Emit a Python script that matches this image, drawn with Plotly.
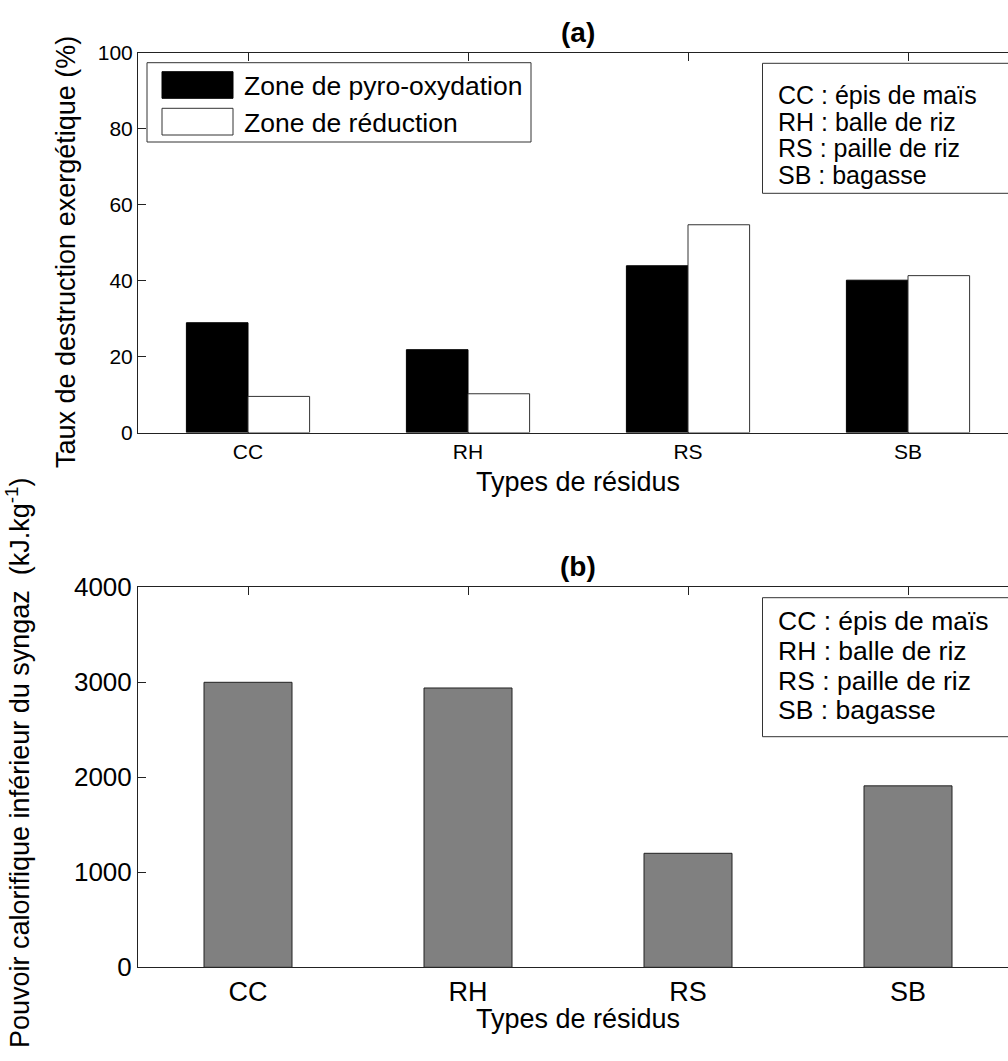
import plotly.graph_objects as go

# ---- data ----
categories = ["CC", "RH", "RS", "SB"]
pyro_oxydation = [28.9, 21.8, 43.9, 40.1]
reduction = [9.5, 10.2, 54.7, 41.3]
pci_syngaz = [3000, 2940, 1200, 1910]
legend_notes = ["CC : épis de maïs", "RH : balle de riz", "RS : paille de riz", "SB : bagasse"]
top_yticks = [0, 20, 40, 60, 80, 100]
bot_yticks = [0, 1000, 2000, 3000, 4000]

W, H = 1008, 1061
FONT = "Liberation Sans, Arial, sans-serif"


def px(x):
    return x / W


def py(y):
    return 1 - y / H


xpos = [1, 2, 3, 4]
XR = [0.5, 0.5 + (W - 138) / 220.0]

fig = go.Figure()
fig.add_trace(go.Bar(x=xpos, y=pyro_oxydation, width=0.28, offset=-0.28,
                     marker=dict(color="black", line=dict(color="black", width=1)),
                     xaxis="x", yaxis="y", showlegend=False, name="Zone de pyro-oxydation"))
fig.add_trace(go.Bar(x=xpos, y=reduction, width=0.28, offset=0.0,
                     marker=dict(color="white", line=dict(color="#333333", width=1)),
                     xaxis="x", yaxis="y", showlegend=False, name="Zone de réduction"))
fig.add_trace(go.Bar(x=xpos, y=pci_syngaz, width=0.4,
                     marker=dict(color="#808080", line=dict(color="#222222", width=1)),
                     xaxis="x2", yaxis="y2", showlegend=False, name="PCI syngaz"))

axis_common = dict(showgrid=False, zeroline=False, showline=True, linecolor="#222222",
                   linewidth=1, ticks="inside", ticklen=8, tickcolor="#222222",
                   layer="below traces", automargin=False)

fig.update_layout(
    width=W, height=H, margin=dict(l=0, r=0, t=0, b=0, pad=0, autoexpand=False),
    paper_bgcolor="white", plot_bgcolor="white",
    barmode="overlay",
    font=dict(family=FONT, color="black"),
    xaxis=dict(domain=[px(138), 1], range=XR, tickvals=xpos, ticktext=categories,
               mirror="ticks", anchor="y", tickfont=dict(size=21), **axis_common),
    yaxis=dict(domain=[py(432.5), py(52.7)], range=[0, 100], tickvals=top_yticks,
               anchor="x", tickfont=dict(size=21), **axis_common),
    xaxis2=dict(domain=[px(138), 1], range=XR, tickvals=xpos, ticktext=categories,
                mirror="ticks", anchor="y2", tickfont=dict(size=27), **axis_common),
    yaxis2=dict(domain=[py(967.3), py(587.3)], range=[0, 4000], tickvals=bot_yticks,
                anchor="x2", tickfont=dict(size=26), **axis_common),
)

shapes = []
annotations = []


def txt(text, x, y, size, xanchor="center", angle=0):
    annotations.append(dict(text=text, x=px(x), y=py(y), xref="paper", yref="paper",
                            xanchor=xanchor, yanchor="middle", showarrow=False,
                            textangle=angle, font=dict(size=size)))


# titles
txt("<b>(a)</b>", 578, 33, 28)
txt("<b>(b)</b>", 578, 566, 28)
# x titles
txt("Types de résidus", 578, 482, 27)
txt("Types de résidus", 578, 1019, 27)
# y titles
txt("Taux de destruction exergétique (%)", 66, 252, 27, angle=-90)
txt("Pouvoir calorifique inférieur du syngaz&nbsp; (kJ.kg<sup>-1</sup>)", 18, 763, 27, angle=-90)

# legend (top)
shapes.append(dict(type="rect", xref="paper", yref="paper", x0=px(147), x1=px(531),
                   y0=py(142), y1=py(62.7), line=dict(color="#333333", width=1),
                   fillcolor="white", layer="above"))
shapes.append(dict(type="rect", xref="paper", yref="paper", x0=px(162), x1=px(233),
                   y0=py(98.3), y1=py(71.7), line=dict(color="black", width=1),
                   fillcolor="black", layer="above"))
shapes.append(dict(type="rect", xref="paper", yref="paper", x0=px(162), x1=px(233),
                   y0=py(135), y1=py(108.3), line=dict(color="#333333", width=1),
                   fillcolor="white", layer="above"))
txt("Zone de pyro-oxydation", 242, 85.5, 26.5, xanchor="left")
txt("Zone de réduction", 242, 122.5, 26.5, xanchor="left")

# note boxes
shapes.append(dict(type="rect", xref="paper", yref="paper", x0=px(762.5), x1=px(1015),
                   y0=py(193.3), y1=py(63.3), line=dict(color="#333333", width=1),
                   fillcolor="white", layer="above"))
shapes.append(dict(type="rect", xref="paper", yref="paper", x0=px(762.5), x1=px(1015),
                   y0=py(736.7), y1=py(597.7), line=dict(color="#333333", width=1),
                   fillcolor="white", layer="above"))
top_lines_y = [95, 121.7, 148.3, 175]
bot_lines_y = [620.5, 650.5, 680.5, 710]
for t, y in zip(legend_notes, top_lines_y):
    txt(t, 776, y, 25, xanchor="left")
for t, y in zip(legend_notes, bot_lines_y):
    txt(t, 776, y, 26.5, xanchor="left")

fig.update_layout(shapes=shapes, annotations=annotations)
fig.write_html("out.html", config={"displayModeBar": False},
               post_script="document.body.style.margin='0';document.body.style.overflow='hidden';")
